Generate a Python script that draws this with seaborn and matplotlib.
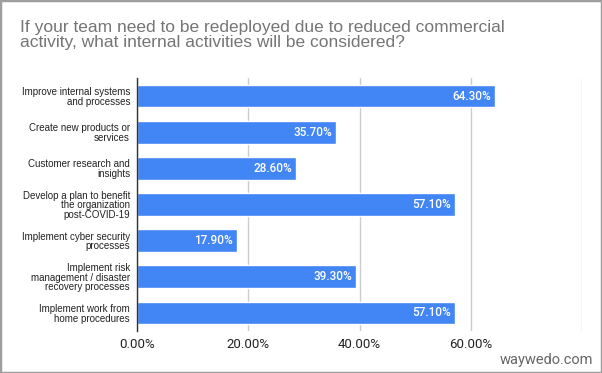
"""
Redeployment survey – internal activities bar chart
"""

import matplotlib
matplotlib.use("Agg")
import matplotlib.pyplot as plt
import matplotlib.patches as mpatches
import pandas as pd
import seaborn as sns

CATEGORIES = [
    "Improve internal systems\nand processes",
    "Create new products or\nservices",
    "Customer research and\ninsights",
    "Develop a plan to benefit\nthe organization\npost-COVID-19",
    "Implement cyber security\nprocesses",
    "Implement risk\nmanagement / disaster\nrecovery processes",
    "Implement work from\nhome procedures",
]
SHARES = [0.643, 0.357, 0.286, 0.571, 0.179, 0.393, 0.571]
X_TICKS = [0.0, 0.2, 0.4, 0.6, 0.8]
X_TICK_LABELS = ["0.00%", "20.00%", "40.00%", "60.00%", ""]

TITLE = ("If your team need to be redeployed due to reduced commercial\n"
         "activity, what internal activities will be considered?")
BLUE = "#4285F4"

sns.set_style("white")
plt.rcParams["font.family"] = ["Liberation Sans", "DejaVu Sans"]

df = pd.DataFrame({"activity": CATEGORIES, "share": SHARES})

fig = plt.figure(figsize=(6.02, 3.73), dpi=100)
ax = fig.add_axes([137 / 602, 1 - 331 / 373, 445 / 602, 253 / 373])

sns.barplot(data=df, x="share", y="activity", color=BLUE, width=0.63,
            saturation=1, ax=ax, zorder=3)

ax.set_xlim(0, 0.8)
ax.set_xticks(X_TICKS)
ax.set_xticklabels(X_TICK_LABELS, fontsize=9.5, color="#222222", family="Roboto")
ax.tick_params(axis="x", length=0, pad=5)
ax.tick_params(axis="y", length=0, pad=5, labelsize=7, labelcolor="#222222")
for lbl in ax.get_yticklabels():
    lbl.set_horizontalalignment("right")
    lbl.set_multialignment("right")
    lbl.set_linespacing(0.95)
ax.grid(axis="x", color="#cccccc", linewidth=1, zorder=0)
ax.set_xlabel("")
ax.set_ylabel("")
for side in ["top", "right", "bottom"]:
    ax.spines[side].set_visible(False)
ax.spines["left"].set_color("#333333")
ax.spines["left"].set_linewidth(1)
ax.spines["left"].set_zorder(4)

for i, v in enumerate(SHARES):
    ax.text(v - 0.006, i, f"{v * 100:.2f}%", ha="right", va="center",
            color="white", fontsize=8.5, fontweight="medium", family="Roboto",
            zorder=5)

fig.text(20 / 602, 1 - 20 / 373, TITLE, ha="left", va="top", fontsize=12.5,
         color="#757575", linespacing=1.0)
fig.text(593 / 602, 1 - 360 / 373, "waywedo.com", ha="right", va="center",
         fontsize=10.5, color="#666666", family="Roboto")

fig.patches.append(mpatches.Rectangle((0, 0), 1, 1, transform=fig.transFigure,
                                      fill=False, edgecolor="#9e9e9e",
                                      linewidth=2.5))

fig.savefig("out.png", dpi=100)
